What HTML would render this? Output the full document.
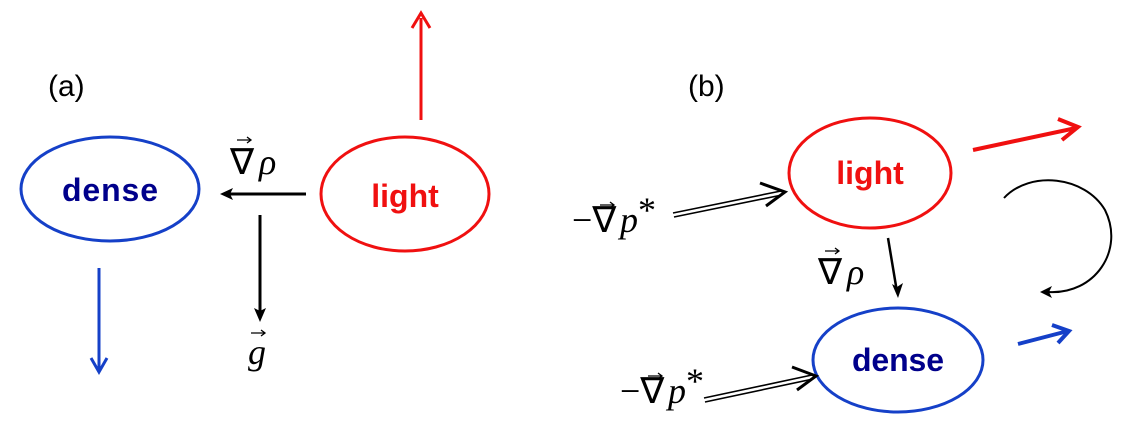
<!DOCTYPE html>
<html><head><meta charset="utf-8"><style>
html,body{margin:0;padding:0;background:#fff;}
svg{display:block;}
.lbl{font-family:"Liberation Sans",sans-serif;font-size:30px;}
.nd{font-family:"Liberation Sans",sans-serif;font-weight:bold;font-size:32px;}
.m{font-family:"Liberation Serif",serif;font-size:36px;}
</style></head><body>
<svg width="1131" height="429" viewBox="0 0 1131 429" xmlns="http://www.w3.org/2000/svg">
<!-- panel a -->
<text x="48" y="96" class="lbl">(a)</text>
<ellipse cx="110" cy="189" rx="89" ry="52" fill="none" stroke="#1540c8" stroke-width="3"/>
<text x="110" y="201" class="nd" fill="#00008b" text-anchor="middle" textLength="96">dense</text>
<ellipse cx="405" cy="194" rx="84" ry="57" fill="none" stroke="#f01010" stroke-width="3"/>
<text x="405" y="207" class="nd" fill="#f01010" text-anchor="middle">light</text>
<line x1="421" y1="120" x2="421" y2="18" stroke="#f01010" stroke-width="3"/>
<path d="M412,28 L421,13 L430,28" fill="none" stroke="#f01010" stroke-width="3"/>
<line x1="99" y1="268" x2="99" y2="370" stroke="#1540c8" stroke-width="3"/>
<path d="M91,358 L99,372 L107,358" fill="none" stroke="#1540c8" stroke-width="3"/>
<line x1="306" y1="194" x2="228" y2="194" stroke="#000" stroke-width="3"/>
<path d="M220,194 L233,188 L230,194 L233,200 Z" fill="#000"/>
<line x1="260" y1="215" x2="260" y2="312" stroke="#000" stroke-width="3"/>
<path d="M260,322 L254,308 L260,311 L266,308 Z" fill="#000"/>
<text x="230" y="174" class="m">∇</text><text x="259" y="174" class="m" font-style="italic">ρ</text>
<path d="M237,140 L251,140 M247,137 L251,140 L247,143" stroke="#000" stroke-width="1.3" fill="none"/>
<text x="248" y="364" class="m" font-style="italic">g</text>
<path d="M251,333 L265,333 M261,330 L265,333 L261,336" stroke="#000" stroke-width="1.3" fill="none"/>
<!-- panel b -->
<text x="688" y="96" class="lbl">(b)</text>
<ellipse cx="870" cy="173" rx="81" ry="55" fill="none" stroke="#f01010" stroke-width="3"/>
<text x="870" y="184" class="nd" fill="#f01010" text-anchor="middle">light</text>
<ellipse cx="898" cy="360" rx="85" ry="52" fill="none" stroke="#1540c8" stroke-width="3"/>
<text x="898" y="371" class="nd" fill="#00008b" text-anchor="middle" textLength="92">dense</text>
<line x1="973" y1="150" x2="1076" y2="128" stroke="#f01010" stroke-width="4"/>
<path d="M1058,119 L1078,127 L1062,140" fill="none" stroke="#f01010" stroke-width="4"/>
<line x1="1018" y1="344" x2="1068" y2="331" stroke="#1540c8" stroke-width="4"/>
<path d="M1052,325 L1069,331 L1058,343" fill="none" stroke="#1540c8" stroke-width="4"/>
<line x1="888" y1="238" x2="897" y2="292" stroke="#000" stroke-width="2.5"/>
<path d="M898,298 L892,284 L897,287 L903,283 Z" fill="#000"/>
<text x="818" y="284" class="m">∇</text><text x="847" y="284" class="m" font-style="italic">ρ</text>
<path d="M825,251 L839,251 M835,248 L839,251 L835,254" stroke="#000" stroke-width="1.3" fill="none"/>
<path d="M1004,198 C1030,170 1085,176 1105,210 C1125,250 1095,295 1048,292" fill="none" stroke="#000" stroke-width="2"/>
<path d="M1040,292 L1052,286 L1049,292 L1052,298 Z" fill="#000"/>
<!-- double arrows -->
<path d="M673,213 L781,191 M674,217 L782,195" stroke="#000" stroke-width="1.6" fill="none"/>
<path d="M760,183 L785,192 L766,206" fill="none" stroke="#000" stroke-width="3"/>
<path d="M704,398 L812,375 M705,402 L813,379" stroke="#000" stroke-width="1.6" fill="none"/>
<path d="M792,367 L816,376 L797,390" fill="none" stroke="#000" stroke-width="3"/>
<text x="572" y="232" class="m">−∇</text><text x="620" y="232" class="m" font-style="italic">p</text><text x="638" y="222" class="m" font-size="28">*</text>
<path d="M600,205 L614,205 M610,202 L614,205 L610,208" stroke="#000" stroke-width="1.3" fill="none"/>
<text x="620" y="403" class="m">−∇</text><text x="668" y="403" class="m" font-style="italic">p</text><text x="686" y="393" class="m" font-size="28">*</text>
<path d="M648,376 L662,376 M658,373 L662,376 L658,379" stroke="#000" stroke-width="1.3" fill="none"/>
</svg>
</body></html>
